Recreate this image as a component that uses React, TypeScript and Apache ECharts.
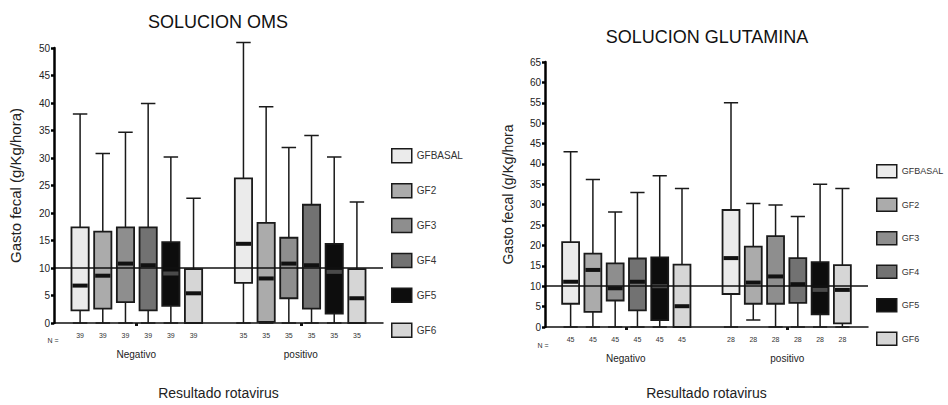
import React, { useEffect, useRef } from 'react';
import * as echarts from 'echarts';

const FONT = '"Liberation Sans", Arial, sans-serif';

const groups = ['Negativo', 'positivo'];
const gfNames = ['GFBASAL', 'GF2', 'GF3', 'GF4', 'GF5', 'GF6'];
const gfColors = ['#ebebeb', '#ababab', '#8e8e8e', '#727272', '#0d0d0d', '#d6d6d6'];
const medianColors = ['#111', '#111', '#111', '#111', '#4a4a4a', '#111'];

const omsN = [39, 35];
const gluN = [45, 28];

// [min, Q1, median, Q3, max] per GF series
const omsNegativo = [
  [0, 2.3, 6.8, 17.4, 38],
  [0, 2.6, 8.6, 16.6, 30.8],
  [0, 3.8, 10.8, 17.4, 34.7],
  [0, 2.3, 10.5, 17.4, 39.9],
  [0, 3.1, 9.0, 14.7, 30.2],
  [0, 0, 5.4, 9.8, 22.7],
];
const omsPositivo = [
  [0, 7.3, 14.4, 26.3, 51],
  [0, 0.2, 8.1, 18.2, 39.3],
  [0, 4.5, 10.8, 15.5, 31.9],
  [0, 2.6, 10.5, 21.5, 34.1],
  [0, 1.7, 9.3, 14.4, 30.2],
  [0, 0, 4.5, 9.8, 22],
];
const gluNegativo = [
  [0, 5.7, 11.1, 20.8, 43],
  [0, 3.7, 14.0, 18.0, 36.2],
  [0, 6.5, 9.5, 15.6, 28.2],
  [0, 4.1, 11.1, 16.8, 33],
  [0, 1.7, 10.0, 17.1, 37.1],
  [0, 0, 5.1, 15.3, 34],
];
const gluPositivo = [
  [0, 8.1, 16.9, 28.7, 55],
  [1.7, 5.7, 10.9, 19.7, 30.3],
  [0, 5.7, 12.4, 22.3, 29.9],
  [0, 5.9, 10.5, 16.9, 27.1],
  [0, 3.1, 9.1, 15.9, 35],
  [0, 0.9, 9.1, 15.2, 34],
];

const referenceLevel = 10;
const omsYMax = 50;
const gluYMax = 65;
const yInterval = 5;

// slot layout along the hidden value x axis
const groupOffset = 7.2;
const slotMin = -1.15;
const slotMax = 13.35;

function makeRender(medianColor: string) {
  return (params: any, api: any) => {
    const x = api.value(0);
    const mn = api.value(1);
    const q1 = api.value(2);
    const md = api.value(3);
    const q3 = api.value(4);
    const mx = api.value(5);
    const n = api.value(6);
    const bw = api.size([1, 0])[0] * 0.76;
    const cap = bw * 0.42;
    const pMin = api.coord([x, mn]);
    const pQ1 = api.coord([x, q1]);
    const pMd = api.coord([x, md]);
    const pQ3 = api.coord([x, q3]);
    const pMax = api.coord([x, mx]);
    const base = api.coord([x, 0])[1];
    const cx = pMd[0];
    const stroke = '#1a1a1a';
    const color = api.visual('color');
    return {
      type: 'group',
      children: [
        {
          type: 'polyline',
          shape: { points: [[cx, pQ3[1]], [cx, pMax[1]], [cx - cap, pMax[1]], [cx + cap, pMax[1]]] },
          style: { stroke, lineWidth: 1.5, fill: 'none' },
        },
        {
          type: 'polyline',
          shape: { points: [[cx, pQ1[1]], [cx, pMin[1]], [cx - cap, pMin[1]], [cx + cap, pMin[1]]] },
          style: { stroke, lineWidth: 1.5, fill: 'none' },
        },
        {
          type: 'rect',
          shape: { x: cx - bw / 2, y: pQ3[1], width: bw, height: pQ1[1] - pQ3[1] },
          style: { fill: color, stroke, lineWidth: 1.8 },
        },
        {
          type: 'rect',
          shape: { x: cx - bw / 2 + 1, y: pMd[1] - 2, width: bw - 2, height: 4 },
          style: { fill: medianColor },
        },
        {
          type: 'text',
          x: cx,
          y: base + 12,
          style: { text: String(n), align: 'center', verticalAlign: 'middle', fontSize: 7, fill: '#333', fontFamily: FONT },
        },
      ],
    };
  };
}

function buildSeries(neg: number[][], pos: number[][], nArr: number[], xAxisIndex: number, yAxisIndex: number) {
  const boxes = gfNames.map((name, i) => {
    const data = [neg[i], pos[i]].map((v, g) => [g * groupOffset + i, ...v, nArr[g]]);
    return {
      type: 'custom',
      name,
      xAxisIndex,
      yAxisIndex,
      itemStyle: { color: gfColors[i], borderColor: '#1a1a1a', borderWidth: 1.5 },
      encode: { x: 0, y: [1, 2, 3, 4, 5] },
      renderItem: makeRender(medianColors[i]),
      data,
      z: 2,
    };
  });
  const refLine = {
    type: 'line',
    name: 'ref',
    xAxisIndex,
    yAxisIndex,
    data: [],
    z: 5,
    markLine: {
      silent: true,
      symbol: 'none',
      label: { show: false },
      lineStyle: { color: '#111', width: 1.5, type: 'solid' },
      data: [{ yAxis: referenceLevel }],
    },
  };
  return [...boxes, refLine];
}

function catAxis(gridIndex: number, nameGap: number) {
  return {
    type: 'category',
    gridIndex,
    data: groups,
    position: 'bottom',
    name: 'Resultado rotavirus',
    nameLocation: 'middle',
    nameGap,
    nameTextStyle: { fontSize: 14, color: '#222', fontFamily: FONT },
    axisLine: { show: true, onZero: false, lineStyle: { color: '#111', width: 1.5 } },
    axisTick: { show: true, alignWithLabel: true, length: 3, lineStyle: { color: '#111', width: 3 } },
    axisLabel: { margin: 26, fontSize: 10, color: '#222', fontFamily: FONT },
    splitLine: { show: false },
  };
}

function valueXAxis(gridIndex: number) {
  return {
    type: 'value',
    gridIndex,
    min: slotMin,
    max: slotMax,
    show: false,
    axisLine: { onZero: false },
    splitLine: { show: false },
  };
}

function yAxis(gridIndex: number, max: number, nameSize: number, nameGap: number) {
  return {
    type: 'value',
    gridIndex,
    position: 'left',
    min: 0,
    max,
    interval: yInterval,
    name: gridIndex === 0 ? 'Gasto fecal (g/Kg/hora)' : 'Gasto fecal (g/Kg/hora',
    nameLocation: 'middle',
    nameGap,
    nameTextStyle: { fontSize: nameSize, color: '#222', fontFamily: FONT },
    axisLine: { show: true, onZero: false, lineStyle: { color: '#000', width: 2.5 } },
    axisTick: { show: true, length: 3, lineStyle: { color: '#000', width: 2.5 } },
    axisLabel: { fontSize: 10, color: '#222', margin: 4, fontFamily: FONT },
    splitLine: { show: false },
    z: 6,
  };
}

function legend(left: number, top: number, itemHeight: number, itemGap: number, fontSize: number) {
  return {
    data: gfNames,
    orient: 'vertical',
    left,
    top,
    padding: 0,
    itemWidth: 20,
    itemHeight,
    itemGap,
    icon: 'rect',
    selectedMode: false,
    itemStyle: { borderColor: '#1a1a1a', borderWidth: 1.5 },
    textStyle: { fontSize, color: '#333', fontFamily: FONT },
  };
}

export default function App() {
  const ref = useRef<HTMLDivElement>(null);
  useEffect(() => {
    document.body.style.margin = '0';
    const chart = echarts.init(ref.current!, null, { renderer: 'svg' });
    chart.setOption({
      animation: false,
      backgroundColor: '#fff',
      textStyle: { fontFamily: FONT },
      grid: [
        { left: 54, top: 48, width: 329, height: 280 },
        { left: 545, top: 62, width: 323, height: 270 },
      ],
      xAxis: [catAxis(0, 63), valueXAxis(0), catAxis(1, 59), valueXAxis(1)],
      yAxis: [yAxis(0, omsYMax, 15, 31), yAxis(1, gluYMax, 14, 30)],
      legend: [legend(391, 148, 14, 19.4, 10), legend(876, 164, 13, 19, 9)],
      graphic: [
        {
          type: 'text',
          x: 218,
          y: 22,
          style: { text: 'SOLUCION OMS', align: 'center', verticalAlign: 'middle', fontSize: 18, fill: '#111', fontFamily: FONT },
        },
        {
          type: 'text',
          x: 707,
          y: 37,
          style: { text: 'SOLUCION GLUTAMINA', align: 'center', verticalAlign: 'middle', fontSize: 18, fill: '#111', fontFamily: FONT },
        },
        {
          type: 'text',
          x: 53,
          y: 340,
          style: { text: 'N =', align: 'center', verticalAlign: 'middle', fontSize: 7, fill: '#333', fontFamily: FONT },
        },
        {
          type: 'text',
          x: 543,
          y: 345,
          style: { text: 'N =', align: 'center', verticalAlign: 'middle', fontSize: 7, fill: '#333', fontFamily: FONT },
        },
      ],
      series: [
        ...buildSeries(omsNegativo, omsPositivo, omsN, 1, 0),
        ...buildSeries(gluNegativo, gluPositivo, gluN, 3, 1),
      ],
    });
    return () => chart.dispose();
  }, []);
  return <div ref={ref} style={{ width: 948, height: 405 }} />;
}
